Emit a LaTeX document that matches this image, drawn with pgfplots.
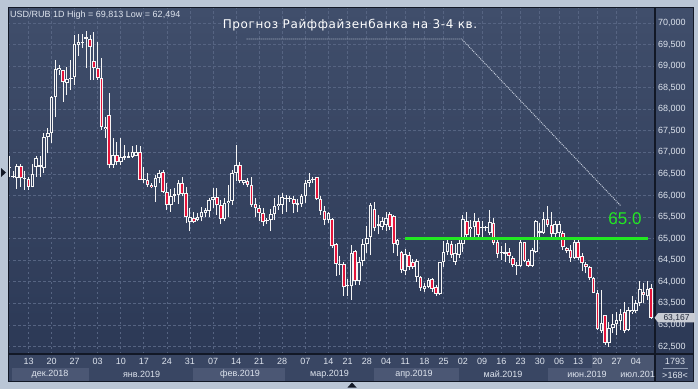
\documentclass[border=0pt]{standalone}
\usepackage{pgfplots}
\pgfplotsset{compat=1.18}
\usepackage{pgfplotstable}
\usepackage{fontspec}
\setmainfont{Liberation Sans}
\newfontfamily\titlefont[LetterSpace=5]{DejaVu Sans}

\definecolor{frame}{RGB}{186,198,214}
\definecolor{bgtop}{RGB}{64,78,107}
\definecolor{bgbot}{RGB}{44,57,86}
\definecolor{gridc}{RGB}{86,100,130}
\definecolor{panel}{RGB}{57,70,99}
\definecolor{monthbox}{RGB}{75,87,116}
\definecolor{candlered}{RGB}{228,20,58}
\definecolor{bodybg}{RGB}{52,65,94}
\definecolor{wick}{RGB}{245,245,245}
\definecolor{lvl}{RGB}{34,232,34}
\definecolor{txt}{RGB}{222,228,238}
\definecolor{sep}{RGB}{18,24,38}
\definecolor{tagfill}{RGB}{200,204,212}
\definecolor{tagtext}{RGB}{30,38,56}
\definecolor{dotc}{RGB}{200,208,222}
\definecolor{linec}{RGB}{140,152,175}

\pgfplotstableread{
i o h l c
0 66.64 66.91 66.44 66.67
1 66.43 66.56 66.40 66.46
2 66.40 66.73 66.15 66.69
3 66.69 66.73 66.21 66.40
4 66.38 66.56 66.13 66.40
5 66.38 66.44 66.13 66.21
6 66.21 66.73 66.19 66.50
7 66.67 66.91 66.44 66.87
8 66.67 66.91 66.44 66.70
9 66.63 67.46 66.52 67.35
10 67.35 67.56 66.98 67.45
11 67.45 68.31 67.23 68.29
12 68.28 69.15 67.83 68.93
13 68.90 69.03 68.80 68.96
14 68.90 68.92 68.18 68.63
15 68.61 68.99 68.34 68.70
16 68.71 69.15 68.45 68.73
17 68.76 69.73 68.57 69.52
18 69.49 69.75 69.23 69.56
19 69.54 69.75 69.42 69.57
20 69.63 69.813 68.95 69.67
21 69.63 69.73 68.69 69.44
22 69.11 69.79 68.69 68.96
23 68.96 69.57 68.69 68.72
24 68.72 69.19 67.52 67.59
25 67.54 67.83 67.33 67.59
26 67.87 68.38 66.64 66.70
27 66.70 67.33 66.64 66.94
28 66.94 67.25 66.71 66.77
29 66.77 67.33 66.71 66.89
30 66.87 67.18 66.83 66.91
31 66.88 67.00 66.87 66.92
32 66.89 67.14 66.87 67.01
33 66.91 67.18 66.91 67.01
34 67.01 67.14 66.36 66.36
35 66.36 66.67 66.29 66.37
36 66.36 66.52 66.21 66.25
37 66.25 66.29 66.17 66.19
38 66.21 66.48 65.85 66.40
39 66.40 66.60 66.29 66.53
40 66.54 66.60 66.06 66.08
41 66.08 66.29 65.67 65.78
42 65.78 66.15 65.63 66.00
43 66.00 66.17 65.86 66.03
44 66.02 66.36 65.80 66.29
45 66.29 66.43 65.98 66.04
46 66.06 66.21 65.36 65.50
47 65.38 65.71 65.17 65.50
48 65.49 65.63 65.36 65.38
49 65.44 65.59 65.40 65.50
50 65.50 65.73 65.40 65.61
51 65.59 65.71 65.51 65.67
52 65.65 65.94 65.51 65.90
53 65.89 66.17 65.71 65.96
54 65.96 66.17 65.55 65.77
55 65.77 65.90 65.34 65.45
56 65.45 65.94 65.40 65.82
57 65.82 66.25 65.51 65.87
58 65.87 66.60 65.78 66.53
59 66.52 67.18 66.33 66.71
60 66.71 66.77 66.29 66.33
61 66.29 66.36 66.25 66.35
62 66.33 66.40 66.21 66.25
63 66.25 66.44 65.73 65.78
64 65.81 65.94 65.51 65.71
65 65.71 65.78 65.40 65.59
66 65.59 65.71 65.30 65.38
67 65.42 65.48 65.34 65.40
68 65.44 65.68 65.17 65.57
69 65.57 65.94 65.44 65.76
70 65.76 66.02 65.67 65.81
71 65.78 66.06 65.58 65.96
72 65.93 66.02 65.63 65.95
73 65.93 65.98 65.86 65.95
74 65.92 65.98 65.59 65.81
75 65.78 65.92 65.61 65.82
76 65.81 66.04 65.73 65.99
77 65.98 66.36 65.82 66.30
78 66.30 66.53 66.21 66.36
79 66.36 66.42 66.29 66.37
80 66.42 66.44 65.90 65.92
81 65.92 65.99 65.55 65.65
82 65.65 65.75 65.32 65.44
83 65.44 65.62 65.36 65.59
84 65.46 65.48 64.78 64.82
85 64.87 64.89 64.14 64.42
86 64.42 64.60 64.16 64.40
87 64.42 64.47 63.67 63.87
88 63.90 64.06 63.67 63.93
89 63.90 64.86 63.58 64.66
90 64.72 64.74 63.93 64.01
91 64.01 64.58 63.93 64.45
92 64.49 64.99 64.36 64.87
93 64.87 65.30 64.66 65.01
94 65.05 65.82 64.62 65.78
95 65.68 65.86 65.17 65.24
96 65.30 65.55 65.10 65.34
97 65.28 65.50 65.20 65.40
98 65.32 65.62 65.17 65.48
99 65.58 65.61 65.20 65.28
100 65.53 65.56 64.66 64.88
101 64.86 65.00 64.60 64.97
102 64.70 64.72 64.20 64.28
103 64.25 64.75 64.15 64.65
104 64.62 64.70 64.28 64.35
105 64.47 64.52 64.30 64.35
106 64.11 64.52 64.00 64.49
107 64.11 64.13 63.79 63.85
108 63.83 63.97 63.77 63.91
109 63.89 64.10 63.85 64.04
110 64.06 64.08 63.76 63.84
111 63.89 63.93 63.68 63.72
112 63.72 64.47 63.70 64.45
113 64.45 64.95 64.35 64.70
114 64.70 65.05 64.62 64.90
115 64.88 64.95 64.55 64.62
116 64.47 64.88 64.40 64.66
117 64.62 65.05 64.55 64.90
118 64.88 65.55 64.70 65.46
119 65.40 65.63 65.05 65.09
120 65.22 65.44 65.01 65.27
121 65.28 65.59 64.97 65.40
122 65.42 65.47 65.05 65.09
123 65.24 65.40 65.05 65.26
124 65.24 65.30 65.17 65.26
125 65.13 65.67 65.09 65.38
126 65.37 65.47 64.86 64.91
127 64.92 64.97 64.55 64.65
128 64.66 64.82 64.51 64.70
129 64.65 64.90 64.47 64.69
130 64.70 64.78 64.43 64.60
131 64.55 64.59 64.35 64.39
132 64.37 64.47 64.16 64.39
133 64.37 64.96 64.34 64.92
134 64.92 64.93 64.47 64.49
135 64.49 64.52 64.34 64.37
136 64.37 64.78 64.34 64.74
137 64.70 65.44 64.66 65.40
138 65.13 65.36 65.05 65.17
139 65.14 65.61 65.11 65.45
140 65.45 65.75 65.28 65.32
141 65.32 65.63 65.05 65.11
142 65.11 65.40 65.05 65.34
143 65.13 65.40 65.01 65.34
144 65.13 65.17 64.74 64.80
145 64.78 64.80 64.66 64.72
146 64.74 64.86 64.47 64.55
147 64.55 64.97 64.52 64.93
148 64.93 64.97 64.51 64.55
149 64.60 64.66 64.24 64.43
150 64.42 64.47 64.20 64.34
151 64.34 64.37 64.04 64.08
152 64.08 64.12 63.74 63.75
153 63.75 63.81 62.88 62.90
154 62.85 63.81 62.82 63.05
155 63.22 63.23 62.54 62.58
156 62.59 63.08 62.494 62.92
157 62.92 63.26 62.81 63.02
158 63.02 63.31 62.77 63.12
159 63.10 63.36 62.88 63.26
160 63.29 63.54 62.81 62.87
161 62.88 63.41 62.85 63.35
162 63.29 63.67 63.26 63.35
163 63.33 63.58 63.27 63.52
164 63.52 64.03 63.43 63.84
165 63.77 63.97 63.50 63.70
166 63.67 64.03 63.58 63.83
167 63.85 63.95 63.15 63.167
}\candles

\pgfplotsset{candle/.style={draw=none, mark=none, error bars/.cd, y dir=plus, y explicit, error mark=none}}

\begin{document}
\begin{tikzpicture}[x=1pt,y=1pt]
% frame and panels
\fill[frame] (0,0) rectangle (698,389);
\fill[panel] (8,8) rectangle (693,381);
\shade[top color=bgtop, bottom color=bgbot] (8,35) rectangle (693,381);
% month boxes
\fill[monthbox] (12.3,8.3) rectangle (89,21.3);
\fill[monthbox] (193,8.3) rectangle (285,21.3);
\fill[monthbox] (374,8.3) rectangle (458.6,21.3);
\fill[monthbox] (547.6,8.3) rectangle (592,21.3);

\begin{axis}[
  at={(8pt,35pt)}, anchor=south west,
  scale only axis, width=647pt, height=346pt,
  xmin=-0.34, xmax=167.97, ymin=62.327, ymax=70.348,
  axis line style={draw=none}, tick style={draw=none},
  major tick length=0pt,
  grid=major,
  major grid style={gridc, dash pattern=on 2.5pt off 2.5pt, line width=0.8pt},
  ytick={62.5,63,63.5,64,64.5,65,65.5,66,66.5,67,67.5,68,68.5,69,69.5,70},
  yticklabels={{62,500},{63,000},{63,500},{64,000},{64,500},{65,000},{65,500},{66,000},{66,500},{67,000},{67,500},{68,000},{68,500},{69,000},{69,500},{70,000}},
  yticklabel pos=right,
  yticklabel style={font=\fontsize{9}{10}\selectfont, text=txt, anchor=west, inner sep=0pt, xshift=3pt},
  xtick={5,11,17,23,29,35,41,47,53,59,65,71,77,83,88,93,98,103,108,113,118,123,128,133,138,143,148,153,158,163},
  xticklabels={13,20,27,03,10,17,24,31,07,14,21,28,07,14,21,28,04,11,18,25,02,09,16,23,30,06,13,20,27,04},
  xticklabel style={font=\fontsize{9}{10}\selectfont, text=txt, anchor=north, inner sep=0pt, yshift=-4.5pt},
  clip=true,
]
% wicks
\addplot[candle, error bar style={draw=wick, line width=1pt}]
  table[x=i, y=l, y error expr={\thisrow{h}-\thisrow{l}}] {\candles};
% body outline
\addplot[candle, error bar style={draw=wick, line width=3.6pt}]
  table[x=i, y expr={min(\thisrow{o},\thisrow{c})}, y error expr={max(abs(\thisrow{c}-\thisrow{o}),0.025)}] {\candles};
% hollow interior
\addplot[candle, error bar style={draw=bodybg, line width=1.6pt}]
  table[x=i, y expr={min(\thisrow{o},\thisrow{c})+0.023}, y error expr={max(abs(\thisrow{c}-\thisrow{o})-0.046,0)}] {\candles};
% red interior for falling candles
\addplot[restrict y to domain=60:75, candle, error bar style={draw=candlered, line width=1.6pt}]
  table[x=i, y expr={ifthenelse(\thisrow{c}<\thisrow{o},\thisrow{c}+0.023,0)}, y error expr={max(abs(\thisrow{c}-\thisrow{o})-0.046,0)}] {\candles};
% forecast level
\addplot[lvl, line width=3pt] coordinates {(102.9,65) (166.1,65)};
\end{axis}

% bottom overlay and separators
\fill[white, opacity=0.09] (592,8) rectangle (655,35);
\draw[sep, line width=1.2pt] (655,8) -- (655,381);
\draw[sep, line width=1.2pt] (8,35) -- (693,35);
\draw[sep, line width=1pt] (8,8) rectangle (693,381);

% month labels
\begin{scope}[font=\fontsize{9}{10}\selectfont, text=txt]
\node at (50,15) {дек.2018};
\node at (141.6,15) {янв.2019};
\node at (240,15) {фев.2019};
\node at (329.5,15) {мар.2019};
\node at (414,15) {апр.2019};
\node at (503,15) {май.2019};
\node at (587,15) {июн.2019};
\node at (637.6,15) {июл.201};
\end{scope}
\fill[panel] (655.6,8.5) rectangle (692.5,34.4);
\node[font=\fontsize{9}{10}\selectfont, text=txt] at (675,28) {1793};
\draw[linec, line width=0.8pt] (663,21) -- (688,21);
\node[font=\fontsize{9}{10}\selectfont, text=txt] at (675,14) {>168<};

% price tag
\fill[tagfill] (654.5,71.2) -- (658,75.8) -- (695,75.8) -- (695,66.6) -- (658,66.6) -- cycle;
\node[font=\fontsize{8.5}{9}\selectfont, text=tagtext] at (676.5,71.2) {63,167};

% header text
\node[anchor=west, font=\fontsize{9}{10}\selectfont, text=txt, inner sep=0pt] at (10,374) {USD/RUB 1D High = 69,813 Low = 62,494};
\node[font=\titlefont\fontsize{12}{13}\selectfont, text=white] at (350,364.3) {Прогноз Райффайзенбанка на 3-4 кв.};
\draw[dotc, dash pattern=on 1pt off 1pt, line width=0.9pt] (246.7,350) -- (461.7,350) -- (621,183);
\node[font=\fontsize{17}{18}\selectfont, text=lvl] at (625,170) {65.0};

% markers
\fill[sep] (1,221) -- (6,216.5) -- (1,212) -- cycle;
\fill[sep] (347.5,1.5) -- (356.5,1.5) -- (352,6.5) -- cycle;

\pgfresetboundingbox
\useasboundingbox (0,0) rectangle (698,389);
\end{tikzpicture}
\end{document}
